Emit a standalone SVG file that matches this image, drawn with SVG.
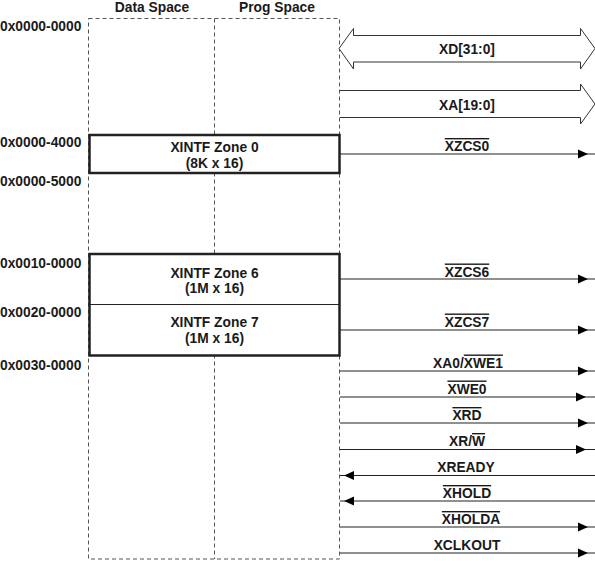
<svg xmlns="http://www.w3.org/2000/svg" xmlns:xlink="http://www.w3.org/1999/xlink" width="595" height="561" viewBox="0 0 595 561">
<style>
text{font-family:"Liberation Sans",Arial,sans-serif;font-weight:bold;font-size:13.8px;fill:#1a1a1a}
.c{text-anchor:middle}
.ol{text-decoration:overline}
.dash{fill:none;stroke:#555;stroke-width:1;stroke-dasharray:4,3}
.zone{fill:#fff;stroke:#222;stroke-width:2.5}
.sig{stroke:#222;stroke-width:1.2;fill:none}
.bus{fill:#fff;stroke:#333;stroke-width:1}
</style>
<defs>
<path id="ar" d="M0,-4.5 L10,0 L0,4.5 Z" fill="#000"/>
<path id="al" d="M0,-4.5 L-10,0 L0,4.5 Z" fill="#000"/>
</defs>
<g id="columns">
<rect class="dash" x="88.5" y="18.5" width="251" height="540.5"/>
<line class="dash" x1="214.5" y1="18.5" x2="214.5" y2="559"/>
<text class="c" x="152" y="11.5">Data Space</text>
<text class="c" x="277" y="11.5">Prog Space</text>
</g>
<g id="addresses">
<text x="0" y="30.5">0x0000-0000</text>
<text x="0" y="146.5">0x0000-4000</text>
<text x="0" y="185.5">0x0000-5000</text>
<text x="0" y="267.5">0x0010-0000</text>
<text x="0" y="317">0x0020-0000</text>
<text x="0" y="370">0x0030-0000</text>
</g>
<g id="zone0">
<rect class="zone" x="89.5" y="135" width="250" height="38"/>
<text class="c" x="214.5" y="151.5">XINTF Zone 0</text>
<text class="c" x="214.5" y="167.5">(8K x 16)</text>
</g>
<g id="zone6">
<rect class="zone" x="89.5" y="254" width="250" height="101.5"/>
<text class="c" x="214.5" y="277.5">XINTF Zone 6</text>
<text class="c" x="214.5" y="293">(1M x 16)</text>
</g>
<g id="zone7">
<line x1="89.5" y1="304.5" x2="339.5" y2="304.5" stroke="#222" stroke-width="1"/>
<text class="c" x="214.5" y="327">XINTF Zone 7</text>
<text class="c" x="214.5" y="342.5">(1M x 16)</text>
</g>
<g id="connectors">
<path class="bus" d="M339,48.5 L353.5,28.5 V35.5 H580.5 V28.5 L595,48.5 L580.5,69 V62 H353.5 V69 Z"/>
<text class="c" x="467" y="54">XD[31:0]</text>
<path class="bus" d="M340,90.5 H580.5 V84 L595,104 L580.5,124 V117.5 H340"/>
<text class="c" x="467" y="109.5">XA[19:0]</text>

<line class="sig" x1="340" y1="154" x2="595" y2="154"/><use xlink:href="#ar" x="578" y="154"/>
<text class="c" x="467" y="151"><tspan class="ol">XZCS0</tspan></text>

<line class="sig" x1="340" y1="279" x2="595" y2="279"/><use xlink:href="#ar" x="578" y="279"/>
<text class="c" x="467" y="276.5"><tspan class="ol">XZCS6</tspan></text>

<line class="sig" x1="340" y1="330" x2="595" y2="330"/><use xlink:href="#ar" x="578" y="330"/>
<text class="c" x="467" y="326.5"><tspan class="ol">XZCS7</tspan></text>

<line class="sig" x1="340" y1="371" x2="595" y2="371"/><use xlink:href="#ar" x="578" y="371"/>
<text class="c" x="468" y="367.5">XA0/<tspan class="ol">XWE1</tspan></text>

<line class="sig" x1="340" y1="397" x2="595" y2="397"/><use xlink:href="#ar" x="576" y="397"/>
<text class="c" x="467" y="393.5"><tspan class="ol">XWE0</tspan></text>

<line class="sig" x1="340" y1="423" x2="595" y2="423"/><use xlink:href="#ar" x="578" y="423"/>
<text class="c" x="467" y="420"><tspan class="ol">XRD</tspan></text>

<line class="sig" x1="340" y1="449.5" x2="595" y2="449.5"/><use xlink:href="#ar" x="576" y="449.5"/>
<text class="c" x="467" y="446">XR/<tspan class="ol">W</tspan></text>

<line class="sig" x1="340" y1="475.5" x2="595" y2="475.5"/><use xlink:href="#al" x="354" y="475.5"/>
<text class="c" x="466" y="472">XREADY</text>

<line class="sig" x1="340" y1="501" x2="595" y2="501"/><use xlink:href="#al" x="354" y="501"/>
<text class="c" x="467" y="498"><tspan class="ol">XHOLD</tspan></text>

<line class="sig" x1="340" y1="527" x2="595" y2="527"/><use xlink:href="#ar" x="578" y="527"/>
<text class="c" x="471" y="524"><tspan class="ol">XHOLDA</tspan></text>

<line class="sig" x1="340" y1="553" x2="595" y2="553" stroke="#555" stroke-width="1.6"/><use xlink:href="#ar" x="578" y="553"/>
<text class="c" x="467" y="550">XCLKOUT</text>
</g>
</svg>
